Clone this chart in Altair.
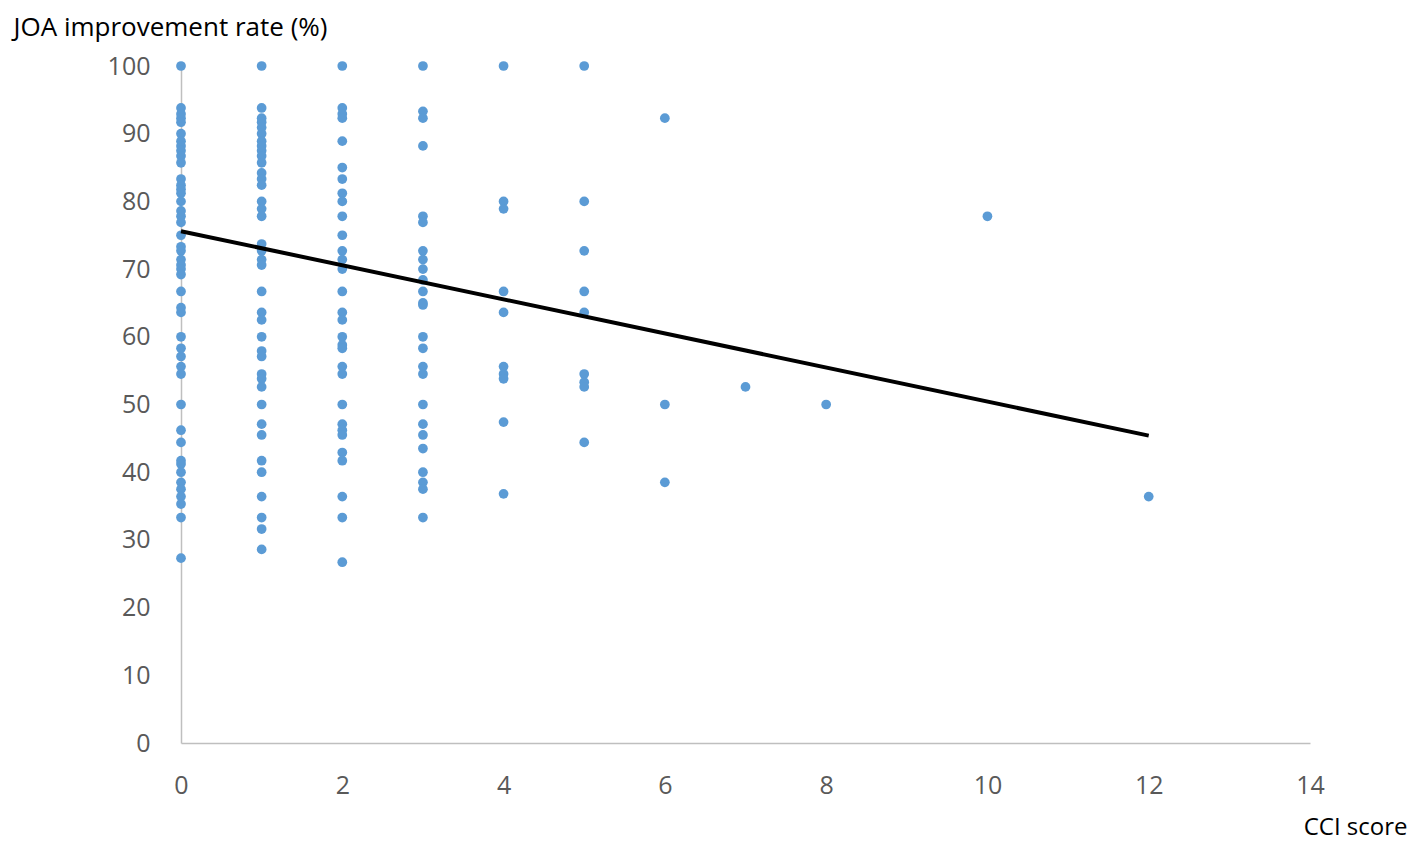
import altair as alt
import pandas as pd

# JOA improvement rate (%) values read per CCI score
joa_cci0 = [100, 93.8, 92.9, 92.3, 91.7, 90, 88.9, 88.2, 87.5, 86.7, 85.7, 83.3, 82.4, 81.8,
            81.2, 80, 78.6, 77.8, 76.9, 75, 73.3, 72.7, 71.4, 70.6, 70, 69.2, 66.7, 64.3,
            63.6, 60, 58.3, 57.1, 55.6, 54.5, 50, 46.2, 44.4, 41.7, 41.2, 40, 38.5, 37.5,
            36.4, 35.3, 33.3, 27.3]
joa_cci1 = [100, 93.8, 92.3, 91.7, 90.9, 90, 88.9, 88.2, 87.5, 86.7, 85.7, 84.2, 83.3, 82.4,
            80, 78.9, 77.8, 73.7, 72.7, 71.4, 70.6, 66.7, 63.6, 62.5, 60, 57.9, 57.1, 54.5,
            53.8, 52.6, 50, 47.1, 45.5, 41.7, 40, 36.4, 33.3, 31.6, 28.6]
joa_cci2 = [100, 93.8, 92.9, 92.3, 88.9, 85, 83.3, 81.2, 80, 77.8, 75, 72.7, 71.4, 70, 66.7,
            63.6, 62.5, 60, 58.8, 58.3, 55.6, 54.5, 50, 47.1, 46.2, 45.5, 42.9, 41.7, 36.4,
            33.3, 26.7]
joa_cci3 = [100, 93.3, 92.3, 88.2, 77.8, 76.9, 72.7, 71.4, 70, 68.4, 66.7, 65, 64.7, 60, 58.3,
            55.6, 54.5, 50, 47.1, 45.5, 43.5, 40, 38.5, 37.5, 33.3]
joa_cci4 = [100, 80, 78.9, 66.7, 63.6, 55.6, 54.5, 53.8, 47.4, 36.8]
joa_cci5 = [100, 80, 72.7, 66.7, 63.6, 54.5, 53.3, 52.6, 44.4]
joa_cci6 = [92.3, 50, 38.5]
joa_cci7 = [52.6]
joa_cci8 = [50]
joa_cci10 = [77.8]
joa_cci12 = [36.4]

# linear trend line as drawn in the figure (read at its two ends)
trend_cci = [0, 12]
trend_joa = [75.6, 45.4]

groups = {0: joa_cci0, 1: joa_cci1, 2: joa_cci2, 3: joa_cci3, 4: joa_cci4, 5: joa_cci5,
          6: joa_cci6, 7: joa_cci7, 8: joa_cci8, 10: joa_cci10, 12: joa_cci12}

rows = [{"cci": k, "joa": v} for k, vals in groups.items() for v in vals]
df = pd.DataFrame(rows)
df_trend = pd.DataFrame({"cci": trend_cci, "joa": trend_joa})

x_ticks = [0, 2, 4, 6, 8, 10, 12, 14]
y_ticks = [0, 10, 20, 30, 40, 50, 60, 70, 80, 90, 100]

FONT = "Open Sans"

x_enc = alt.X("cci:Q", scale=alt.Scale(domain=[0, 14], nice=False),
              axis=alt.Axis(values=x_ticks, format="d", grid=False, ticks=False,
                            domainColor="#BFBFBF", domainWidth=1.5, labelFlush=False,
                            labelColor="#595959", labelFontSize=25,
                            labelFont=FONT, labelPadding=30,
                            title="CCI score", titleFont=FONT, titleFontSize=24,
                            titleFontWeight="normal", titleColor="#000000",
                            titleAnchor="end", titleAlign="right", titleBaseline="alphabetic",
                            titleX=1226, titleY=91))
y_enc = alt.Y("joa:Q", scale=alt.Scale(domain=[0, 100], nice=False),
              axis=alt.Axis(values=y_ticks, format="d", grid=False, ticks=False,
                            domainColor="#BFBFBF", domainWidth=1.5, labelFlush=False,
                            labelColor="#595959", labelFontSize=25,
                            labelFont=FONT, labelPadding=31,
                            title="JOA improvement rate (%)", titleFont=FONT, titleFontSize=26,
                            titleFontWeight="normal", titleColor="#000000",
                            titleAngle=0, titleAlign="left", titleBaseline="alphabetic",
                            titleX=-168, titleY=-31))

points = alt.Chart(df).mark_circle(size=95, color="#5B9BD5", opacity=1).encode(x=x_enc, y=y_enc)

trend = alt.Chart(df_trend).mark_line(color="#000000", strokeWidth=4).encode(
    x="cci:Q", y="joa:Q")

chart = alt.layer(points, trend).properties(
    width=1129, height=677,
    autosize=alt.AutoSizeParams(type="none"),
    padding={"left": 173, "top": 58, "right": 100, "bottom": 100},
).configure_view(stroke=None)

chart.save("out.html", embed_options={"renderer": "svg", "actions": False})
